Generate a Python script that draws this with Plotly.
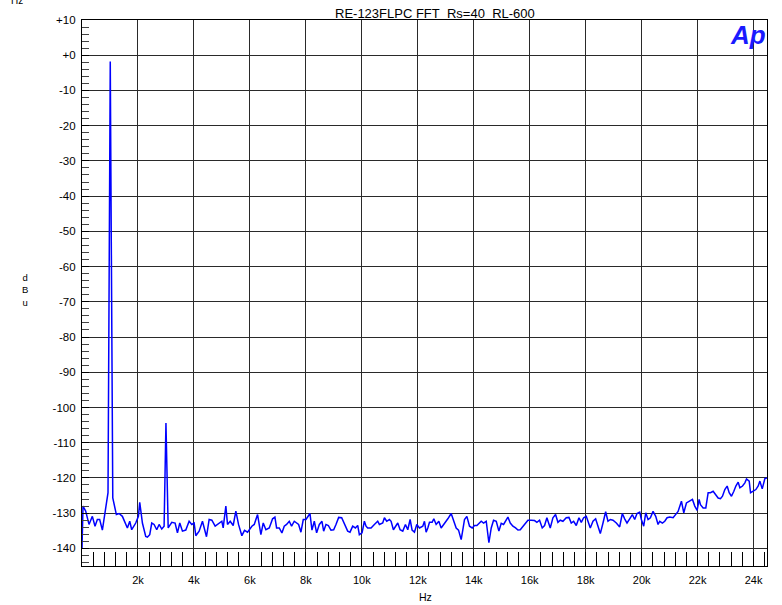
import plotly.graph_objects as go

# ---- data ----
freq_hz = [
    0, 36, 131, 250, 370, 465, 549, 632, 728, 847, 930, 1010, 1100, 1228, 1324, 1443,
    1622, 1706, 1777, 1920, 2016, 2063, 2159, 2278, 2338, 2421, 2493, 2576, 2671, 2755,
    2850, 2934, 3000, 3080, 3208, 3327, 3411, 3494, 3590, 3709, 3828, 3924, 4007, 4067,
    4186, 4305, 4449, 4544, 4640, 4759, 4902, 4998, 5045, 5141, 5200, 5296, 5403, 5498,
    5594, 5713, 5809, 5916, 6071, 6155, 6274, 6393, 6477, 6572, 6692, 6811, 6894, 6954,
    7049, 7144, 7228, 7311, 7407, 7490, 7586, 7669, 7741, 7824, 7908, 8003, 8087, 8147,
    8218, 8302, 8385, 8481, 8576, 8636, 8719, 8803, 8898, 8994, 9077, 9173, 9280, 9375,
    9495, 9578, 9674, 9769, 9853, 9912, 10008, 10091, 10151, 10210, 10330, 10449, 10568,
    10628, 10747, 10807, 10890, 10986, 11046, 11129, 11201, 11284, 11368, 11463, 11559,
    11642, 11726, 11797, 11881, 11964, 12060, 12179, 12239, 12298, 12358, 12418, 12513,
    12573, 12656, 12752, 12835, 12955, 13074, 13193, 13277, 13372, 13456, 13551, 13611,
    13670, 13754, 13849, 13945, 14028, 14112, 14207, 14267, 14350, 14446, 14541, 14625,
    14708, 14804, 14899, 14982, 15066, 15138, 15221, 15305, 15400, 15495, 15579, 15662,
    15758, 15841, 15937, 16054, 16173, 16256, 16352, 16447, 16531, 16614, 16734, 16829,
    16924, 17008, 17091, 17187, 17306, 17402, 17485, 17569, 17664, 17760, 17843, 17927,
    18022, 18082, 18165, 18261, 18356, 18440, 18523, 18619, 18714, 18797, 18881, 18976,
    19096, 19215, 19310, 19394, 19477, 19573, 19668, 19752, 19835, 19931, 19990, 20074,
    20146, 20229, 20313, 20408, 20503, 20587, 20647, 20742, 20826, 20909, 21005, 21124,
    21219, 21303, 21422, 21506, 21601, 21720, 21816, 21899, 21983, 22054, 22102, 22198,
    22293, 22377, 22460, 22555, 22651, 22734, 22818, 22889, 22973, 23056, 23128, 23211,
    23295, 23367, 23450, 23510, 23605, 23689, 23748, 23844, 23892, 23987, 24082, 24166,
    24226, 24309, 24404, 24488,
]

level_dbu = [
    -140.0, -128.0, -129.4, -133.2, -130.9, -133.7, -131.8, -131.8, -134.8, -129.0, -124.2, -1.8, -125.7, -130.4, -130.1, -130.9,
    -134.2, -132.3, -134.7, -132.8, -130.9, -126.9, -132.8, -136.6, -136.8, -136.1, -132.8, -133.2, -134.7, -133.2,
    -134.5, -133.7, -104.4, -134.2, -132.6, -132.8, -135.6, -132.8, -135.1, -134.8, -132.3, -133.2, -132.8, -136.4,
    -135.1, -132.3, -136.7, -131.8, -132.0, -133.7, -132.8, -132.3, -134.2, -128.0, -133.2, -132.3, -133.5, -129.4,
    -133.2, -136.4, -134.9, -135.4, -133.7, -133.2, -130.4, -136.1, -132.8, -134.7, -134.2, -131.6, -131.1, -134.2,
    -134.2, -135.6, -133.7, -133.2, -132.3, -133.7, -132.3, -132.8, -133.2, -135.4, -131.8, -131.8, -130.9, -130.1,
    -134.8, -132.3, -135.6, -133.2, -132.3, -135.1, -133.2, -133.5, -134.8, -134.7, -133.2, -131.2, -131.3, -132.8,
    -135.1, -135.4, -133.7, -134.2, -133.5, -136.1, -135.6, -132.3, -133.7, -134.2, -134.2, -133.2, -132.3,
    -133.2, -132.8, -131.3, -132.3, -131.8, -132.3, -134.7, -133.7, -132.8, -134.7, -135.1, -133.2,
    -134.7, -131.8, -134.8, -135.4, -133.2, -134.2, -133.7, -132.3, -135.4, -134.2, -132.6, -132.6,
    -131.6, -133.2, -132.3, -134.2, -133.0, -131.6, -130.1, -131.8, -134.2, -134.8, -137.5, -134.7,
    -131.8, -130.9, -133.7, -134.2, -133.5, -133.5, -132.8, -132.3, -132.8, -132.3, -138.4, -134.2,
    -132.0, -132.3, -135.1, -132.9, -133.2, -132.3, -131.1, -132.8, -133.7, -134.2, -134.8, -134.7,
    -133.7, -132.8, -132.0, -132.0, -132.1, -132.6, -132.0, -134.2, -133.5, -131.3, -134.2, -131.3,
    -130.4, -132.6, -132.0, -132.3, -131.3, -131.2, -132.8, -132.3, -133.5, -131.3, -132.6, -131.3,
    -130.9, -132.3, -134.2, -132.3, -131.6, -133.7, -135.8, -132.8, -129.6, -132.3, -131.8, -132.0,
    -132.8, -133.9, -130.1, -131.6, -132.8, -131.6, -130.4, -131.8, -130.1, -129.7, -131.8, -133.7,
    -129.9, -131.8, -131.3, -129.5, -130.9, -133.2, -132.3, -132.8, -132.3, -131.3, -131.1, -131.3,
    -130.4, -129.5, -126.6, -129.9, -127.1, -126.6, -126.1, -128.0, -129.2, -126.1, -127.6, -128.5,
    -128.5, -124.2, -124.2, -123.8, -124.7, -125.7, -125.9, -125.2, -123.3, -122.3, -124.2, -125.2,
    -123.8, -122.3, -121.2, -122.8, -122.3, -121.4, -120.3, -120.9, -124.2, -123.8, -123.3, -122.3,
    -120.9, -123.1, -120.2, -120.0,
]

x_tick_vals = [2000, 4000, 6000, 8000, 10000, 12000, 14000, 16000, 18000, 20000, 22000, 24000]
x_tick_text = ["2k", "4k", "6k", "8k", "10k", "12k", "14k", "16k", "18k", "20k", "22k", "24k"]
y_tick_vals = [10, 0, -10, -20, -30, -40, -50, -60, -70, -80, -90, -100, -110, -120, -130, -140]
y_tick_text = ["+10", "+0", "-10", "-20", "-30", "-40", "-50", "-60", "-70", "-80", "-90",
               "-100", "-110", "-120", "-130", "-140"]

FONT = "Liberation Sans, Arial, sans-serif"
W, H = 782, 605
L, R, T, B = 82, 15, 20, 39
PW, PH = W - L - R, H - T - B


def px(x):
    return (x - L) / PW


def py(y):
    return (H - B - y) / PH


fig = go.Figure()
fig.add_trace(go.Scatter(
    x=freq_hz, y=level_dbu, mode="lines",
    line=dict(color="#0000ff", width=1.5), showlegend=False, hoverinfo="skip",
))

fig.update_layout(
    width=W, height=H,
    margin=dict(l=L, r=R, t=T, b=B, pad=0),
    paper_bgcolor="white", plot_bgcolor="white",
    font=dict(family=FONT, size=11, color="black"),
    xaxis=dict(
        range=[0, 24480], tickvals=x_tick_vals, ticktext=x_tick_text,
        showgrid=True, gridcolor="#2a2a2a", gridwidth=1.3,
        showline=True, linecolor="black", linewidth=1.2, mirror=True,
        ticks="inside", ticklen=14, tickcolor="black", tickwidth=1,
        minor=dict(dtick=400, tick0=0, ticks="inside", ticklen=14,
                   tickcolor="black", tickwidth=1, showgrid=False),
        zeroline=False, tickfont=dict(size=11), ticklabelstandoff=4,
    ),
    yaxis=dict(
        range=[-145, 10], tickvals=y_tick_vals, ticktext=y_tick_text,
        showgrid=True, gridcolor="#2a2a2a", gridwidth=1.3,
        showline=True, linecolor="black", linewidth=1.2, mirror=True,
        ticks="inside", ticklen=7, tickcolor="black", tickwidth=1,
        minor=dict(dtick=2, tick0=0, ticks="inside", ticklen=7,
                   tickcolor="#444444", tickwidth=1, showgrid=False),
        zeroline=False, tickfont=dict(size=11.5), ticklabelstandoff=3,
    ),
)

ann = [
    dict(text="RE-123FLPC FFT\u00a0\u00a0Rs=40\u00a0\u00a0RL-600", x=px(435), y=py(13),
         font=dict(size=13)),
    dict(text="Hz", x=px(17), y=py(1), font=dict(size=10)),
    dict(text="<b><i>Ap</i></b>", x=px(748), y=py(35),
         font=dict(size=26, color="#1a1aff")),
    dict(text="d<br>B<br>u", x=px(25), y=py(290), font=dict(size=9.5)),
    dict(text="Hz", x=px(425), y=py(597), font=dict(size=10.5)),
    dict(text="Sweep\u00a0\u00a0\u00a0\u00a0\u00a0Wave\u00a0\u00a0\u00a0\u00a0\u00a0Data\u00a0\u00a0\u00a0\u00a0\u00a0\u00a0\u00a0\u00a0\u00a0\u00a0\u00a0Rs=40\u00a0\u00a0RL=600",
         x=px(432), y=py(609), font=dict(size=11, color="#2020ff")),
]
for a in ann:
    a.update(xref="paper", yref="paper", showarrow=False, xanchor="center", yanchor="middle")
fig.update_layout(annotations=ann)

fig.write_html("out.html")
